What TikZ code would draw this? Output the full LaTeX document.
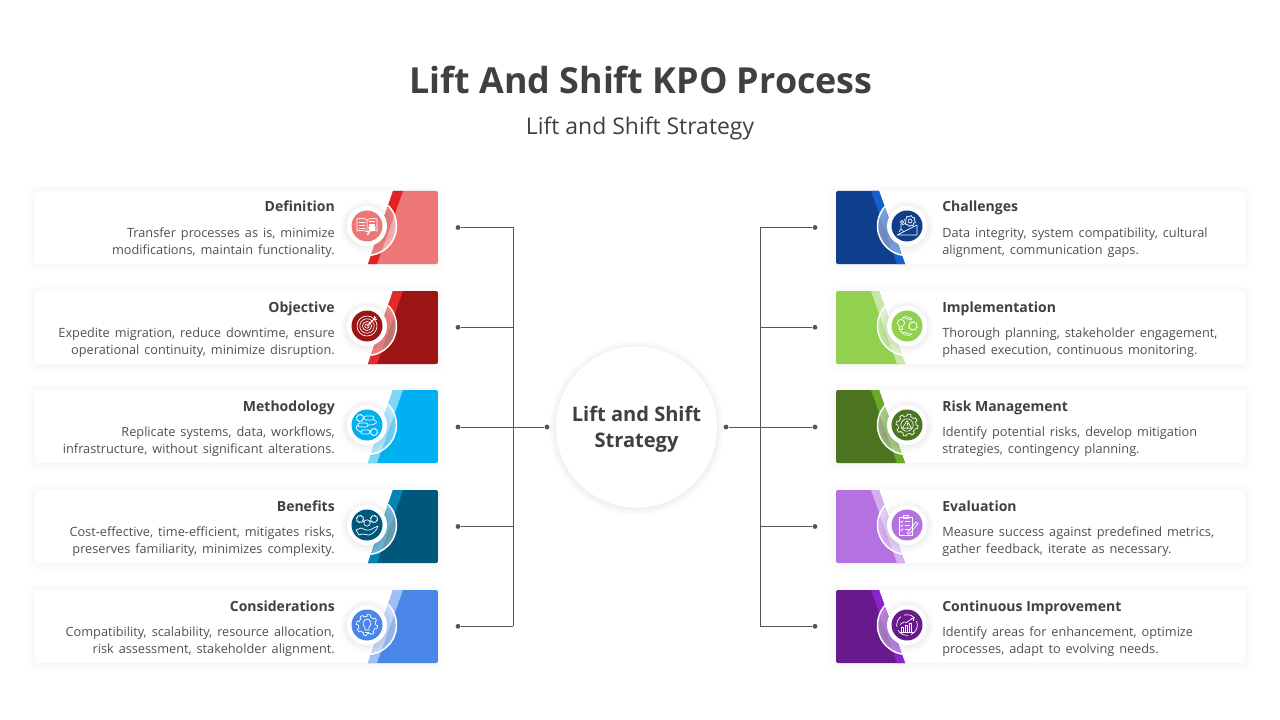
\documentclass[tikz,border=0pt]{standalone}
\usepackage{fontspec}
\setmainfont{Open Sans}
\newfontfamily\bodyface[WordSpace=1.5]{Open Sans}
\definecolor{ink}{HTML}{404040}
\definecolor{bodygrey}{HTML}{505050}
\definecolor{wire}{HTML}{555555}
\newcommand{\softbox}[4]{% x1 y1 x2 y2 soft shadow
  \foreach \gg in {7,6,5,4,3,2,1,0}{
    \fill[black,opacity=0.0055,rounded corners=4pt] (#1-\gg,#2-\gg+1) rectangle (#3+\gg,#4+\gg+1);}
}
\newcommand{\softdisc}[3]{%
  \foreach \gg in {7,6,5,4,3,2,1}{
    \fill[black,opacity=0.008] (#1,#2+1) circle ({#3+\gg});}
}
\newcommand{\gearline}[4]{% cx cy r teeth
  \begin{scope}[shift={(#1,#2)}]
  \draw[iconline] plot[domain=0:360,samples=121] (\x:{#3+0.22*#3*(sin(#4*\x)>0)}) -- cycle;
  \end{scope}
}
% --- icons
\newcommand{\icoBook}{%
  \draw[iconline] (0,-6) .. controls (-3,-8) and (-7,-8) .. (-10,-7) -- (-10,5) .. controls (-7,4) and (-3,4) .. (0,6) .. controls (3,4) and (7,4) .. (10,5) -- (10,-7) .. controls (7,-8) and (3,-8) .. (0,-6) -- (0,6);
  \foreach \q in {-4,-1,2}{\draw[iconline] (-8,\q) -- (-2,\q);\draw[iconline] (2,\q-1) -- (8,\q-1);}
  \fill[white] (5,2) circle (3.6);
  \draw[iconline,line width=1pt] (3,4.5) -- (0.5,9);
}
\newcommand{\icoTarget}{%
  \foreach \q in {10,7.2,4.6,2.2}{\draw[iconline] (0,0) circle (\q);}
  \draw[iconline,line width=.8pt] (0,0) -- (9,-9);
  \draw[iconline] (7,-10) -- (7,-7) -- (10,-7);
}
\newcommand{\icoFlow}{%
  \gearline{-7}{-7}{3}{8}
  \gearline{7}{7}{3}{8}
  \draw[iconline,rounded corners=1.5pt] (-3,-9) rectangle (7,-5);
  \draw[iconline,rounded corners=1.5pt] (-9,-2) rectangle (1,2);
  \draw[iconline,rounded corners=1.5pt] (-6,5) rectangle (3,9);
  \draw[iconline] (7,-5) .. controls (11,-4) and (11,0) .. (1,0);
  \draw[iconline] (-9,0) .. controls (-12,1) and (-11,6) .. (-6,7);
}
\newcommand{\icoHand}{%
  \gearline{-7}{-6}{3}{8}
  \gearline{7}{-6}{3}{8}
  \draw[iconline] (0,-2) circle (3.2);
  \draw[iconline] (-4,-4) -- (-2.5,-3) (4,-4) -- (2.5,-3);
  \draw[iconline] (-11,5) -- (-6,3) -- (-1,5) -- (3,5) .. controls (5,4) and (8,2) .. (11,1) .. controls (10,5) and (6,9) .. (2,10) -- (-5,9) -- (-8,10) -- cycle;
}
\newcommand{\icoGearBulb}{%
  \gearline{0}{0}{8.6}{8}
  \draw[iconline] (-2,2.5) .. controls (-6,-1) and (-3,-6) .. (0,-6) .. controls (3,-6) and (6,-1) .. (2,2.5) -- (2,5) -- (-2,5) -- cycle;
  \draw[iconline] (-1.6,7) -- (1.6,7);
}
\newcommand{\icoHill}{%
  \draw[iconline] (-10,9) -- (10,9) -- (10,-1) -- cycle;
  \gearline{3}{-5}{4.4}{8}
  \draw[iconline] (3,-5) circle (2);
  \draw[iconline] (-5,-4) circle (1.6);
  \draw[iconline] (-6,-2) -- (-6,3) -- (-8,6) (-5,-1) -- (-1,-3) (-6,3) -- (-3,6);
}
\newcommand{\icoCycle}{%
  \gearline{6}{0}{3.6}{8}
  \draw[iconline] (-6,-3) circle (3.6);
  \draw[iconline] (-7.5,0.5) -- (-7.5,3) -- (-4.5,3) -- (-4.5,0.5) (-7,5) -- (-5,5);
  \draw[iconline] (-5,-8) .. controls (-2,-10) and (1,-10) .. (5,-7) -- (3,-6) .. controls (1,-8) and (-2,-8) .. (-5,-8);
  \draw[iconline] (5,8) .. controls (2,10) and (-1,10) .. (-5,7) -- (-3,6) .. controls (-1,8) and (2,8) .. (5,8);
}
\newcommand{\icoWarn}{%
  \gearline{0}{0}{9}{8}
  \draw[iconline] (0,0) circle (6.2);
  \draw[iconline,line join=round] (0,-4.4) -- (4.6,3.2) -- (-4.6,3.2) -- cycle;
  \draw[iconline] (0,-1.6) -- (0,1) (0,1.8) -- (0,2.4);
}
\newcommand{\icoClip}{%
  \draw[iconline] (-8,-8) rectangle (5,10);
  \draw[iconline] (-4,-10) rectangle (1,-6.5);
  \foreach \q in {-3.5,0.5,4.5}{\draw[iconline] (-6.5,\q) -- (-5.3,\q+1) -- (-4,\q-1);\draw[iconline] (-2,\q) -- (2.5,\q);}
  \draw[iconline] (1,7) -- (9,-3) -- (11,-1.5) -- (3,8.5) -- (0.5,9) -- cycle;
}
\newcommand{\icoChart}{%
  \draw[iconline,dash pattern=on 9pt off 2.4pt] (0,0) circle (10.4);
  \draw[iconline] (-6,7) rectangle (-3.4,2);
  \draw[iconline] (-2,7) rectangle (0.6,0);
  \draw[iconline] (2,7) rectangle (4.6,-2);
  \draw[iconline] (-7.4,7) -- (7,7);
  \draw[iconline] (-7,-0.5) -- (-3,-3) -- (-0.5,-2.5) -- (6,-7);
  \draw[iconline] (3.5,-7) -- (6,-7) -- (6,-4.5);
}
\tikzset{
  x=0.75pt,y=-0.75pt,
  iconline/.style={draw=white,line width=0.5pt,line join=round},
  wirepath/.style={draw=wire,line width=0.75pt},
  wiredot/.style={circle,fill=wire,inner sep=0pt,minimum size=3.6pt},
  cardbox/.style={fill=white},
  headtext/.style={inner sep=0pt,text=ink,font={\fontsize{10.5pt}{13pt}\selectfont\bfseries}},
  bodytext/.style={inner sep=0pt,text=bodygrey,font={\bodyface\fontsize{9.55pt}{12.75pt}\selectfont}},
}
% #1 top y, #2 main colour, #3 stripe colour, #4 icon macro, #5 title, #6 body, #7 name
\newcommand{\leftcard}[7]{%
  \definecolor{mainc}{HTML}{#2}\definecolor{stripec}{HTML}{#3}%
  \softbox{35}{#1}{438}{#1+73}
  \fill[cardbox] (35,#1) rectangle (438,#1+73);
  \begin{scope}
    \clip[rounded corners=1.5pt] (300,#1) rectangle (438,#1+73);
    \fill[mainc] (393,#1) -- (438,#1) -- (438,#1+73) -- (368,#1+73) -- cycle;
    \fill[stripec] (393,#1) -- (403,#1) -- (377,#1+73) -- (368,#1+73) -- cycle;
  \end{scope}
  \begin{scope}
    \clip (393,#1) -- (438,#1) -- (438,#1+73) -- (368,#1+73) -- cycle;
    \fill[white,opacity=0.42] (367,#1+35) circle (29.5);
  \end{scope}
  \draw[white,line width=1.1pt] (367,#1+35) ++(-44:29.5) arc[start angle=-44,end angle=82,radius=29.5];
  \softdisc{367}{#1+35}{20}
  \fill[white] (367,#1+35) circle (20);
  \fill[mainc] (367,#1+35) circle (15.5);
  \begin{scope}[shift={(367,#1+35)}]#4\end{scope}
  \node[headtext,anchor=base east] (#7t) at (335,#1+21) {#5};
  \node[bodytext,anchor=base east,align=right] (#7b) at (335,#1+63) {#6};
}
\newcommand{\rightcard}[7]{%
  \definecolor{mainc}{HTML}{#2}\definecolor{stripec}{HTML}{#3}%
  \softbox{836}{#1}{1245}{#1+73}
  \fill[cardbox] (836,#1) rectangle (1245,#1+73);
  \begin{scope}
    \clip[rounded corners=1.5pt] (836,#1) rectangle (980,#1+73);
    \fill[mainc] (836,#1) -- (879,#1) -- (905,#1+73) -- (836,#1+73) -- cycle;
    \fill[stripec] (871,#1) -- (879,#1) -- (905,#1+73) -- (897,#1+73) -- cycle;
  \end{scope}
  \begin{scope}
    \clip (836,#1) -- (879,#1) -- (905,#1+73) -- (836,#1+73) -- cycle;
    \fill[white,opacity=0.42] (907,#1+35) circle (29.5);
  \end{scope}
  \draw[white,line width=1.1pt] (907,#1+35) ++(98:29.5) arc[start angle=98,end angle=224,radius=29.5];
  \softdisc{907}{#1+35}{20}
  \fill[white] (907,#1+35) circle (20);
  \fill[mainc] (907,#1+35) circle (15.5);
  \begin{scope}[shift={(907,#1+35)}]#4\end{scope}
  \node[headtext,anchor=base west] (#7t) at (942,#1+21) {#5};
  \node[bodytext,anchor=base west,align=left] (#7b) at (942,#1+63) {#6};
}
\begin{document}
\begin{tikzpicture}
\useasboundingbox (0,0) rectangle (1280,720);
\fill[white] (0,0) rectangle (1280,720);
\node[inner sep=0pt,text=ink,font=\fontsize{26.9pt}{32pt}\selectfont\bfseries,anchor=base] (title) at (641,93.5) {Lift And Shift KPO Process};
\node[inner sep=0pt,text=ink,font=\fontsize{17.2pt}{20pt}\selectfont,anchor=base] (subtitle) at (640,135) {Lift and Shift Strategy};

\leftcard{191}{ED7777}{E02222}{\icoBook}{Definition}{Transfer processes as is, minimize\\modifications, maintain functionality.}{l1}
\leftcard{291}{9B1515}{E32A2A}{\icoTarget}{Objective}{Expedite migration, reduce downtime, ensure\\operational continuity, minimize disruption.}{l2}
\leftcard{390}{00B0F0}{7FD7F7}{\icoFlow}{Methodology}{Replicate systems, data, workflows,\\infrastructure, without significant alterations.}{l3}
\leftcard{490}{00577C}{0085B5}{\icoHand}{Benefits}{Cost-effective, time-efficient, mitigates risks,\\preserves familiarity, minimizes complexity.}{l4}
\leftcard{590}{4A86E8}{9DBFF3}{\icoGearBulb}{Considerations}{Compatibility, scalability, resource allocation,\\risk assessment, stakeholder alignment.}{l5}

\rightcard{191}{0F3E8C}{1560D0}{\icoHill}{Challenges}{Data integrity, system compatibility, cultural\\alignment, communication gaps.}{r1}
\rightcard{291}{92D050}{C8E7A7}{\icoCycle}{Implementation}{Thorough planning, stakeholder engagement,\\phased execution, continuous monitoring.}{r2}
\rightcard{390}{4B7320}{6AA82A}{\icoWarn}{Risk Management}{Identify potential risks, develop mitigation\\strategies, contingency planning.}{r3}
\rightcard{490}{B472E0}{D5AFF0}{\icoClip}{Evaluation}{Measure success against predefined metrics,\\gather feedback, iterate as necessary.}{r4}
\rightcard{590}{661A8C}{8A24CC}{\icoChart}{Continuous Improvement}{Identify areas for enhancement, optimize\\processes, adapt to evolving needs.}{r5}

% centre
\softdisc{636.5}{427}{80.5}
\node[circle,fill=white,minimum size=120.75pt,inner sep=0pt] (hub) at (636.5,427) {};
\node[inner sep=0pt,align=center,text=ink,font=\fontsize{15.05pt}{19.2pt}\selectfont\bfseries] (hubtext) at (636.5,429.5) {Lift and Shift\\Strategy};

% connectors
\foreach \n/\y in {1/227.5,2/327.3,3/427,4/526.5,5/626.3}{
  \node[wiredot] (dl\n) at (458,\y) {};
  \coordinate (jl\n) at (513,\y);
  \draw[wirepath] (dl\n) -- (jl\n);
  \node[wiredot] (dr\n) at (815,\y) {};
  \coordinate (jr\n) at (760,\y);
  \draw[wirepath] (dr\n) -- (jr\n);
}
\draw[wirepath] (jl1) -- (jl5);
\draw[wirepath] (jr1) -- (jr5);
\node[wiredot] (hl) at (547,427) {};
\node[wiredot] (hr) at (726,427) {};
\draw[wirepath] (jl3) -- (hl);
\draw[wirepath] (jr3) -- (hr);
\end{tikzpicture}
\end{document}
